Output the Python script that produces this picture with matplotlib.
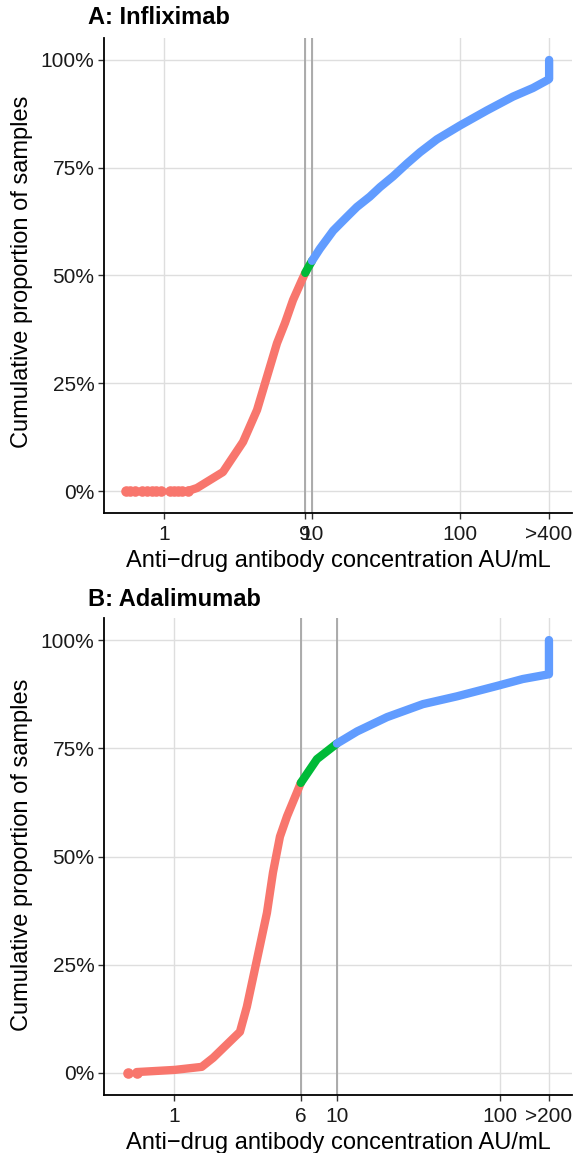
import matplotlib
matplotlib.use("Agg")
import matplotlib.pyplot as plt
from matplotlib.ticker import FixedLocator, FixedFormatter, PercentFormatter

plt.rcParams['font.family'] = ['Liberation Sans', 'DejaVu Sans']

RED = '#F8766D'
GREEN = '#00BA38'
BLUE = '#619CFF'

# Panel A: Infliximab
a_dots_x = [0.55, 0.59, 0.64, 0.71, 0.77, 0.83, 0.88, 0.95, 1.1, 1.17, 1.25, 1.33, 1.45]
a_dots_y = [0] * len(a_dots_x)
a_red_x = [1.45, 1.67, 2.5, 3.42, 4.25, 4.96, 5.8, 6.57, 7.44, 8.56, 9.0]
a_red_y = [0.0, 0.7, 4.4, 11.4, 18.8, 26.5, 34.3, 39.0, 44.3, 49.0, 50.6]
a_green_x = [9.0, 9.4, 10.0]
a_green_y = [50.6, 51.8, 53.4]
a_blue_x = [10.0, 11.3, 13.9, 17.2, 20.1, 24.6, 28.8, 35.3, 43.9, 53.7, 69.9,
            100, 152, 228, 311, 393, 400, 400]
a_blue_y = [53.4, 56.2, 60.4, 63.6, 65.9, 68.3, 70.5, 73.0, 76.0, 78.6, 81.6,
            84.8, 88.3, 91.5, 93.5, 95.4, 95.6, 100]
a_ticks = [1, 9, 10, 100, 400]
a_labels = ['1', '9', '10', '100', '>400']
a_cuts = [9, 10]

# Panel B: Adalimumab
b_dots_x = [0.52, 0.59]
b_dots_y = [0, 0]
b_red_x = [0.59, 1.01, 1.48, 1.74, 2.54, 2.8, 3.23, 3.72, 4.05, 4.47, 4.94, 5.68, 6.0]
b_red_y = [0.2, 0.7, 1.4, 3.5, 9.5, 15.3, 26.2, 37.0, 46.3, 54.6, 59.3, 64.8, 67.0]
b_green_x = [6.0, 7.54, 10.0]
b_green_y = [67.0, 72.5, 76.1]
b_blue_x = [10.0, 13.3, 20.3, 33.7, 54.5, 95.9, 138, 200, 200]
b_blue_y = [76.1, 78.9, 82.2, 85.2, 87.0, 89.4, 91.0, 92.1, 100]
b_ticks = [1, 6, 10, 100, 200]
b_labels = ['1', '6', '10', '100', '>200']
b_cuts = [6, 10]

fig = plt.figure(figsize=(5.75, 11.53), dpi=100)
W, H = 575, 1153


def panel(rect, xlim, dots_x, dots_y, red, green, blue, ticks, labels, cuts):
    ax = fig.add_axes(rect)
    ax.set_xscale('log')
    ax.set_xlim(xlim)
    ax.set_ylim(-5.1, 105.1)
    for t in ticks:
        ax.axvline(t, color='#DEDEDE', lw=1.0, zorder=0)
    for yv in [0, 25, 50, 75, 100]:
        ax.axhline(yv, color='#DEDEDE', lw=1.0, zorder=0)
    for c in cuts:
        ax.axvline(c, color='#A6A6A6', lw=1.3, zorder=1)
    ax.scatter(dots_x, dots_y, s=58, color=RED, lw=0, zorder=3)
    for (xs, ys), col in zip([red, green, blue], [RED, GREEN, BLUE]):
        ax.plot(xs, ys, color=col, lw=6.0, solid_capstyle='round',
                solid_joinstyle='round', zorder=3)
    ax.xaxis.set_major_locator(FixedLocator(ticks))
    ax.xaxis.set_major_formatter(FixedFormatter(labels))
    ax.xaxis.set_minor_locator(FixedLocator([]))
    ax.set_yticks([0, 25, 50, 75, 100])
    ax.yaxis.set_major_formatter(PercentFormatter(decimals=0))
    ax.tick_params(labelsize=15, length=4, width=1, color='#333333',
                   labelcolor='#1a1a1a', pad=3)
    ax.tick_params(axis='x', pad=5)
    for s in ['top', 'right']:
        ax.spines[s].set_visible(False)
    for s in ['left', 'bottom']:
        ax.spines[s].set_linewidth(1.3)
    ax.set_xlabel('Anti\u2212drug antibody concentration AU/mL', fontsize=17,
                  labelpad=4)
    return ax


axA = panel([104 / W, 1 - 513 / H, 468 / W, 475 / H], (0.393, 571),
            a_dots_x, a_dots_y, (a_red_x, a_red_y), (a_green_x, a_green_y),
            (a_blue_x, a_blue_y), a_ticks, a_labels, a_cuts)
axB = panel([104 / W, 1 - 1095 / H, 468 / W, 477 / H], (0.372, 277),
            b_dots_x, b_dots_y, (b_red_x, b_red_y), (b_green_x, b_green_y),
            (b_blue_x, b_blue_y), b_ticks, b_labels, b_cuts)

fig.text(88 / W, 1 - 17 / H, 'A: Infliximab', fontsize=17, fontweight='bold',
         va='center', ha='left')
fig.text(88 / W, 1 - 600 / H, 'B: Adalimumab', fontsize=17, fontweight='bold',
         va='center', ha='left')
fig.text(22 / W, 1 - 272 / H, 'Cumulative proportion of samples', fontsize=17,
         rotation=90, va='center', ha='center')
fig.text(22 / W, 1 - 855 / H, 'Cumulative proportion of samples', fontsize=17,
         rotation=90, va='center', ha='center')

fig.savefig('out.png', dpi=100)
